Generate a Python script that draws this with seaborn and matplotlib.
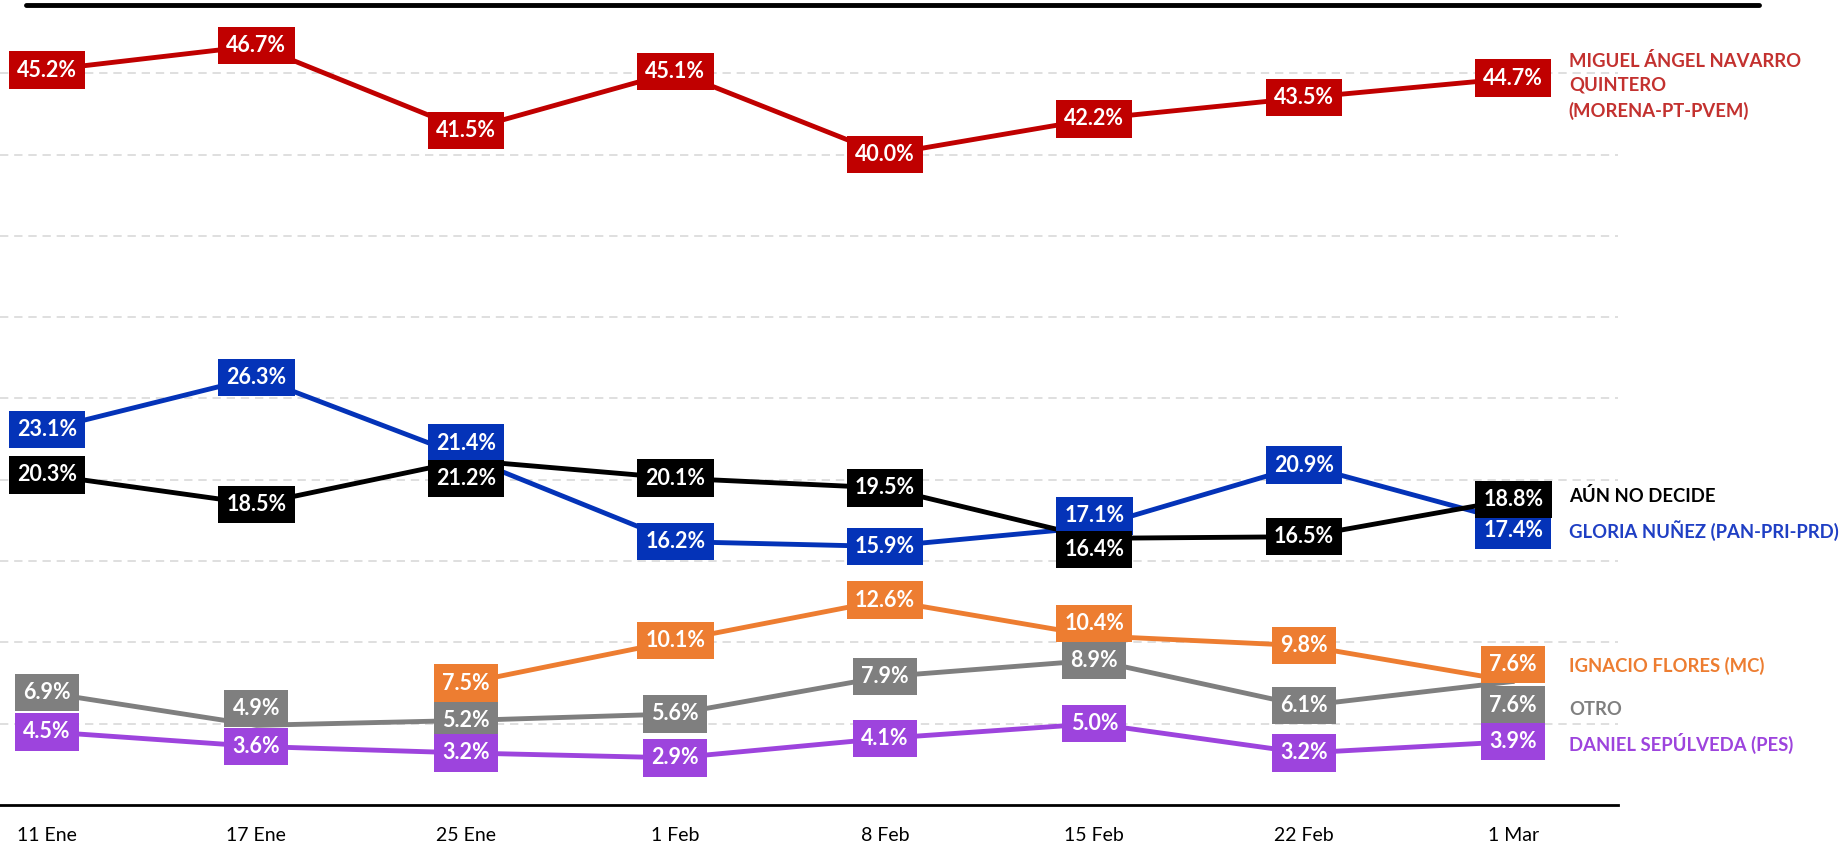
import numpy as np
import pandas as pd
import matplotlib
matplotlib.use("Agg")
import matplotlib.pyplot as plt
from matplotlib.lines import Line2D
import seaborn as sns

# Datos de la encuesta
fechas = ["11 Ene", "17 Ene", "25 Ene", "1 Feb", "8 Feb", "15 Feb", "22 Feb", "1 Mar"]
navarro = [45.2, 46.7, 41.5, 45.1, 40.0, 42.2, 43.5, 44.7]
nunez = [23.1, 26.3, 21.4, 16.2, 15.9, 17.1, 20.9, 17.4]
no_decide = [20.3, 18.5, 21.2, 20.1, 19.5, 16.4, 16.5, 18.8]
flores = [np.nan, np.nan, 7.5, 10.1, 12.6, 10.4, 9.8, 7.6]
otro = [6.9, 4.9, 5.2, 5.6, 7.9, 8.9, 6.1, 7.6]
sepulveda = [4.5, 3.6, 3.2, 2.9, 4.1, 5.0, 3.2, 3.9]

nombres = {
    "navarro": "MIGUEL ÁNGEL NAVARRO\nQUINTERO\n(MORENA-PT-PVEM)",
    "no_decide": "AÚN NO DECIDE",
    "nunez": "GLORIA NUÑEZ (PAN-PRI-PRD)",
    "flores": "IGNACIO FLORES (MC)",
    "otro": "OTRO",
    "sepulveda": "DANIEL SEPÚLVEDA (PES)",
}
colores = {
    "navarro": "#C00000",
    "nunez": "#0433B8",
    "no_decide": "#000000",
    "flores": "#ED7D31",
    "otro": "#7F7F7F",
    "sepulveda": "#9D44DD",
}
colores_texto = dict(colores, navarro="#C3312F", nunez="#1F3FC4")

# desplazamientos verticales (puntos) de etiquetas que se encimarían
desplaza = {
    ("otro", 1): 12, ("nunez", 2): 10, ("no_decide", 2): -13,
    ("nunez", 5): 8, ("no_decide", 5): -8, ("flores", 5): 9,
    ("nunez", 7): -6, ("flores", 7): 12, ("otro", 7): -17,
}
desplaza_nombre = {
    "navarro": -5.5, "no_decide": 2.5, "nunez": -6,
    "flores": 11.5, "otro": -20, "sepulveda": -1.5,
}

df = pd.DataFrame({
    "pos": range(len(fechas)),
    "navarro": navarro, "nunez": nunez, "no_decide": no_decide,
    "flores": flores, "otro": otro, "sepulveda": sepulveda,
})
largo = df.melt(id_vars="pos", var_name="serie", value_name="valor").dropna()

sns.set_theme(style="white")
plt.rcParams["font.family"] = ["Lato", "DejaVu Sans"]

fig = plt.figure(figsize=(18.39, 8.46), dpi=100)
ax = fig.add_axes([0, 41 / 846, 1618 / 1839, 800 / 846])

sns.lineplot(data=largo, x="pos", y="valor", hue="serie", palette=colores,
             linewidth=3.5, sort=False, legend=False, ax=ax, zorder=3)

for serie in colores:
    sub = largo[largo["serie"] == serie]
    for i, v in zip(sub["pos"], sub["valor"]):
        ax.annotate(f"{v:.1f}%", (i, v), xytext=(0, desplaza.get((serie, i), 0)),
                    textcoords="offset points", ha="center", va="center",
                    color="white", fontsize=15.5, fontweight="bold", zorder=5,
                    bbox=dict(boxstyle="square,pad=0.38", fc=colores[serie], ec="none"))
    ultimo = sub.iloc[-1]
    ax.annotate(nombres[serie], (ultimo["pos"], ultimo["valor"]),
                xytext=(40, desplaza_nombre[serie]), textcoords="offset points",
                ha="left", va="center", color=colores_texto[serie], fontsize=13.3,
                fontweight="bold", linespacing=1.52, annotation_clip=False)

ax.set_xlim(-0.224, 7.5)
ax.set_ylim(0, 49.2)
ax.set_xticks(range(len(fechas)))
ax.set_xticklabels(fechas, fontsize=14)
ax.set_yticks(np.arange(5, 50, 5))
ax.tick_params(axis="x", length=0, pad=16, colors="black")
ax.tick_params(axis="y", left=False, labelleft=False)
ax.yaxis.grid(True, color="#D9D9D9", linestyle=(0, (5, 3.5)), linewidth=1.2)
ax.set_xlabel("")
ax.set_ylabel("")
for lado in ["left", "right", "top"]:
    ax.spines[lado].set_visible(False)
ax.spines["bottom"].set_color("black")
ax.spines["bottom"].set_linewidth(2)

fig.add_artist(Line2D([26 / 1839, 1759 / 1839], [1 - 5 / 846] * 2,
                      color="black", linewidth=3.5, transform=fig.transFigure))

fig.savefig("out.png", dpi=100, facecolor="white")
